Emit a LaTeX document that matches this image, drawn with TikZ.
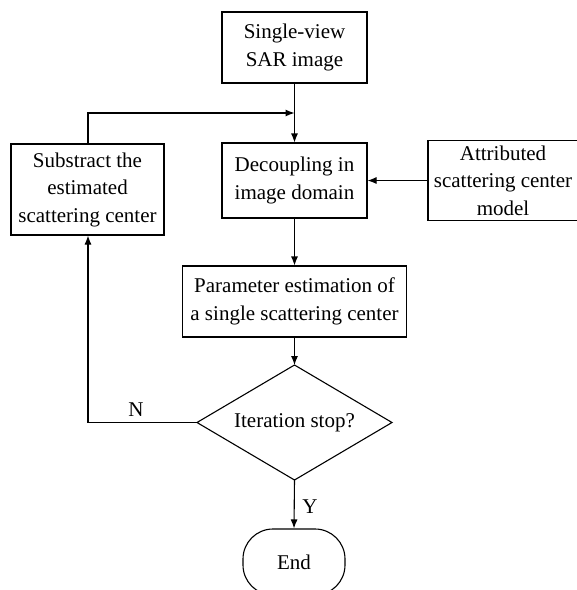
\documentclass[tikz,border=0pt]{standalone}
\usepackage{fontspec}
\setmainfont{LiberationSerif}[Extension=.ttf,UprightFont=*-Regular,BoldFont=*-Bold,ItalicFont=*-Italic,BoldItalicFont=*-BoldItalic]
\usetikzlibrary{arrows.meta}
\begin{document}
\begin{tikzpicture}[x=1pt,y=-1pt,
  every node/.style={font=\rmfamily\fontsize{21}{27.5}\selectfont},
  box/.style={draw,line width=1.1pt,rectangle,align=center,inner sep=0pt},
  lbl/.style={inner sep=0pt},
  conn/.style={line width=1.1pt},
  arr/.style={conn,-{Latex[length=9pt,width=7pt]}}]
\useasboundingbox (0,0) rectangle (577,590);
\node[box,minimum width=145pt,minimum height=71pt] (sar) at (294.5,47.5) {Single-view\\SAR image};
\node[box,minimum width=145pt,minimum height=75pt] (dec) at (294.5,180.5) {Decoupling in\\image domain};
\node[box,minimum width=150pt,minimum height=80pt] (attr) at (503,180.5) {Attributed\\scattering center\\model};
\node[box,minimum width=153pt,minimum height=91pt] (sub) at (87.5,189.5) {Substract the\\estimated\\scattering center};
\node[box,minimum width=224pt,minimum height=71pt] (par) at (294.5,301.5) {Parameter estimation of\\a single scattering center};
\draw[line width=1.1pt] (197,422.5) coordinate (dw) -- (294.5,365) coordinate (dn) -- (392,422.5) coordinate (de) -- (294.5,480) coordinate (ds) -- cycle;
\node (dtext) at (294.5,422.5) {Iteration stop?};
\node[box,rounded corners=30pt,minimum width=102pt,minimum height=66pt] (end) at (294,562) {End};
\coordinate (j) at (294.5,113);
\coordinate (ctop) at (88,113);
\coordinate (cbot) at (88,422.5);
\draw[arr] (sar.south) -- (dec.north);
\draw[arr] (sub.north -| ctop) -- (ctop) -- (j);
\draw[arr] (attr.west) -- (dec.east);
\draw[arr] (dec.south) -- (par.north);
\draw[arr] (par.south) -- (dn);
\draw[arr] (dw) -- (cbot) -- (sub.south -| cbot);
\draw[arr] (ds) -- (end.north);
\node[lbl] (n) at (136,410) {N};
\node[lbl] (y) at (310,507) {Y};
\end{tikzpicture}
\end{document}
